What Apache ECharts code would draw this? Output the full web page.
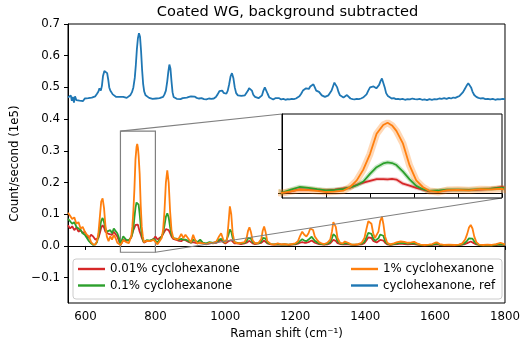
<!DOCTYPE html>
<html><head><meta charset="utf-8">
<script src="https://cdn.jsdelivr.net/npm/echarts@6/dist/echarts.min.js"></script>
<style>html,body{margin:0;padding:0;background:#fff}#c{width:523px;height:348px}</style>
</head><body><div id="c"></div>
<script>
const chartTitle = 'Coated WG, background subtracted';
const xName = 'Raman shift (cm\u207B\u00B9)';
const yName = 'Count/second (1e5)';
const seriesNames = ['0.01% cyclohexanone', '0.1% cyclohexanone', '1% cyclohexanone', 'cyclohexanone, ref'];
const xTicks = [600, 800, 1000, 1200, 1400, 1600, 1800];
const yTicks = [-0.1, 0.0, 0.1, 0.2, 0.3, 0.4, 0.5, 0.6, 0.7];
const insetXTicks = [700, 720, 740, 760, 780, 800];
const insetYTicks = [0.0, 0.2];
const zoomX = [700, 800];
const zoomY = [-0.02, 0.362];

const sampleShifts = [550,556,562,568,574,580,586,592,598,604,610,616,622,628,633,637,641,645,649,653,657,661,666,671,676,681,686,691,696,
700,704,708,712,716,720,724,728,731,734,737,740,743,746,748,750,752,755,758,761,764,767,771,775,780,785,790,795,800,
806,812,818,822,826,830,834,838,842,846,851,856,862,868,874,880,886,891,896,902,908,913,920,928,936,945,955,965,975,982,988,994,1000,
1005,1009,1013,1017,1021,1026,1035,1045,1055,1061,1065,1069,1073,1078,1085,1095,1103,1107,1111,1115,1120,1130,1140,1150,1160,1170,1180,1190,1200,
1208,1214,1220,1226,1232,1238,1243,1247,1251,1256,1262,1268,1275,1283,1292,1300,1305,1309,1312,1316,1321,1328,1336,1342,1346,1351,1360,1370,1380,1390,
1398,1404,1409,1413,1418,1423,1428,1433,1438,1443,1448,1452,1457,1463,1472,1482,1492,1502,1512,1522,1532,1540,1548,1558,1570,1582,1592,1600,1606,1613,1625,1640,1655,1668,
1678,1686,1692,1697,1702,1707,1712,1718,1726,1738,1750,1762,1775,1787,1800];

const orange1 = [0.105,0.095,0.085,0.09,0.07,0.075,0.055,0.06,0.045,0.035,0.03,0.012,0.005,0.004,0.015,0.04,0.09,0.14,0.15,0.12,0.065,0.03,0.015,0.03,0.02,0.035,0.025,0.01,0.005,
0.003,0.01,0.018,0.016,0.012,0.007,0.009,0.014,0.03,0.06,0.11,0.18,0.272,0.312,0.322,0.31,0.285,0.227,0.128,0.06,0.03,0.012,0.007,0.016,0.017,0.015,0.02,0.019,0.022,
0.005,0.015,0.025,0.05,0.11,0.2,0.238,0.2,0.11,0.05,0.025,0.03,0.02,0.025,0.038,0.025,0.035,0.04,0.02,0.012,0.035,0.02,0.008,0.01,0.008,0.005,0.01,0.008,0.015,0.03,0.04,0.02,0.01,
0.02,0.07,0.125,0.1,0.04,0.012,0.008,0.01,0.012,0.025,0.048,0.059,0.045,0.018,0.008,0.01,0.022,0.048,0.061,0.045,0.015,0.006,0.004,0.008,0.005,0.006,0.004,0.006,0.008,
0.015,0.032,0.045,0.035,0.03,0.04,0.055,0.061,0.05,0.03,0.02,0.012,0.008,0.006,0.01,0.02,0.045,0.075,0.08,0.06,0.025,0.01,0.008,0.014,0.018,0.01,0.005,0.004,0.006,0.01,
0.025,0.055,0.078,0.084,0.07,0.04,0.025,0.026,0.045,0.078,0.092,0.07,0.03,0.01,0.005,0.008,0.012,0.014,0.013,0.01,0.011,0.013,0.008,0.004,0.003,0.004,0.006,0.01,0.011,0.006,0.003,0.004,0.003,0.004,
0.008,0.02,0.038,0.058,0.066,0.055,0.03,0.012,0.004,0.003,0.004,0.003,0.006,0.01,0.005];

const green01 = [0.085,0.078,0.07,0.075,0.06,0.055,0.05,0.04,0.035,0.025,0.015,0.008,0.003,0.005,0.012,0.03,0.055,0.08,0.088,0.075,0.055,0.045,0.04,0.05,0.04,0.055,0.05,0.04,0.025,
0.003,0.018,0.03,0.026,0.02,0.015,0.017,0.021,0.028,0.038,0.055,0.09,0.12,0.137,0.142,0.139,0.13,0.1,0.065,0.035,0.02,0.012,0.014,0.018,0.018,0.017,0.02,0.022,0.027,
0.01,0.02,0.03,0.04,0.065,0.092,0.103,0.09,0.06,0.035,0.025,0.028,0.022,0.02,0.022,0.02,0.02,0.025,0.015,0.01,0.02,0.015,0.012,0.02,0.01,0.008,0.012,0.01,0.012,0.02,0.022,0.015,0.01,
0.015,0.035,0.052,0.045,0.025,0.012,0.01,0.008,0.01,0.015,0.025,0.03,0.024,0.012,0.008,0.008,0.014,0.025,0.03,0.024,0.01,0.006,0.005,0.006,0.004,0.005,0.004,0.005,0.006,
0.01,0.016,0.021,0.017,0.015,0.02,0.026,0.029,0.024,0.016,0.012,0.008,0.006,0.005,0.007,0.012,0.024,0.037,0.04,0.03,0.015,0.008,0.006,0.009,0.011,0.007,0.004,0.004,0.005,0.007,
0.013,0.028,0.041,0.045,0.038,0.024,0.016,0.017,0.024,0.036,0.04,0.032,0.016,0.007,0.004,0.006,0.008,0.01,0.009,0.007,0.008,0.009,0.006,0.003,0.003,0.003,0.004,0.006,0.007,0.004,0.003,0.003,0.003,0.003,
0.005,0.01,0.017,0.024,0.027,0.023,0.014,0.007,0.003,0.002,0.003,0.002,0.004,0.005,0.004];

const red001 = [0.065,0.055,0.062,0.05,0.058,0.045,0.05,0.04,0.045,0.03,0.025,0.035,0.03,0.02,0.015,0.025,0.04,0.058,0.065,0.058,0.045,0.04,0.038,0.042,0.035,0.045,0.04,0.03,0.015,
0.003,0.01,0.019,0.017,0.016,0.015,0.018,0.024,0.027,0.04,0.05,0.058,0.066,0.066,0.065,0.067,0.064,0.045,0.036,0.026,0.018,0.01,0.012,0.015,0.017,0.016,0.018,0.022,0.03,
0.02,0.025,0.03,0.035,0.045,0.053,0.056,0.05,0.04,0.03,0.022,0.02,0.018,0.016,0.015,0.02,0.018,0.02,0.012,0.01,0.012,0.01,0.008,0.012,0.01,0.006,0.008,0.01,0.01,0.015,0.018,0.012,0.008,
0.01,0.015,0.021,0.018,0.012,0.008,0.008,0.006,0.008,0.01,0.013,0.016,0.013,0.008,0.006,0.008,0.01,0.014,0.017,0.013,0.008,0.005,0.004,0.005,0.004,0.005,0.003,0.004,0.005,
0.007,0.01,0.012,0.01,0.01,0.012,0.015,0.017,0.014,0.01,0.008,0.006,0.005,0.004,0.005,0.008,0.012,0.019,0.021,0.016,0.009,0.006,0.005,0.006,0.007,0.005,0.004,0.003,0.004,0.005,
0.009,0.018,0.027,0.03,0.025,0.016,0.011,0.011,0.014,0.019,0.021,0.017,0.01,0.005,0.003,0.005,0.006,0.007,0.006,0.005,0.006,0.006,0.004,0.003,0.002,0.003,0.003,0.004,0.005,0.003,0.002,0.003,0.002,0.003,
0.004,0.006,0.009,0.012,0.014,0.012,0.008,0.005,0.003,0.002,0.003,0.002,0.003,0.004,0.003];

const refShifts = [550,554,558,561,564,567,570,574,578,583,588,593,598,603,608,613,618,623,628,633,637,640,642,644,647,650,654,658,662,665,668,671,674,678,683,688,693,698,
703,708,713,718,723,728,733,737,741,744,747,750,753,756,759,762,765,768,772,777,782,787,792,797,802,807,812,817,822,826,830,834,837,840,843,846,849,852,856,861,866,872,878,884,890,896,
902,907,912,918,925,932,939,946,953,960,967,973,978,983,987,991,995,999,1003,1007,1011,1015,1019,1023,1027,1031,1036,1041,1046,1051,1056,1061,1065,1068,1072,1076,1080,1085,1090,1095,
1100,1105,1109,1113,1117,1121,1126,1131,1137,1143,1148,1154,1160,1166,1172,1178,1184,1190,1196,1202,1207,1212,1217,1222,1227,1231,1235,1239,1243,1248,1252,1256,1260,1264,1268,1272,1276,1280,1285,1290,1295,
1300,1304,1308,1312,1316,1320,1324,1328,1333,1338,1343,1348,1353,1358,1364,1370,1376,1382,1388,1394,1399,1404,1409,1414,1419,1424,1428,1432,1436,1440,1444,1448,1452,1456,1460,1465,1470,1476,1482,1488,1494,
1500,1507,1514,1521,1528,1535,1542,1549,1556,1563,1570,1577,1584,1591,1598,1605,1612,1619,1626,1633,1640,1646,1652,1658,1664,1670,1675,1680,1685,1690,1695,1699,1703,1707,1712,1718,1724,1730,1737,1744,1751,1758,1765,1772,1779,1786,1793,1800];

const refCounts = [0.468,0.462,0.475,0.458,0.47,0.452,0.472,0.46,0.466,0.458,0.463,0.457,0.465,0.459,0.466,0.46,0.468,0.465,0.472,0.48,0.487,0.497,0.5,0.49,0.505,0.535,0.552,0.555,0.545,0.525,0.5,0.49,0.488,0.478,0.473,0.47,0.468,0.47,
0.466,0.47,0.468,0.467,0.47,0.475,0.485,0.5,0.53,0.57,0.62,0.655,0.671,0.66,0.615,0.555,0.51,0.487,0.475,0.47,0.467,0.465,0.464,0.463,0.465,0.464,0.466,0.468,0.47,0.478,0.49,0.52,0.55,0.572,0.56,0.52,0.485,0.47,0.466,0.464,0.465,0.463,0.466,0.467,0.468,0.47,
0.472,0.473,0.471,0.467,0.465,0.466,0.463,0.462,0.465,0.464,0.465,0.47,0.478,0.488,0.493,0.49,0.483,0.478,0.48,0.49,0.51,0.535,0.545,0.53,0.5,0.482,0.475,0.474,0.473,0.472,0.475,0.48,0.49,0.498,0.5,0.49,0.477,0.47,0.468,0.466,
0.468,0.475,0.49,0.5,0.497,0.48,0.468,0.464,0.462,0.466,0.464,0.466,0.462,0.464,0.461,0.463,0.462,0.464,0.463,0.465,0.468,0.472,0.48,0.49,0.495,0.497,0.492,0.495,0.503,0.507,0.51,0.5,0.49,0.487,0.486,0.48,0.475,0.472,0.47,0.472,0.475,
0.48,0.49,0.503,0.515,0.517,0.5,0.485,0.475,0.47,0.468,0.472,0.476,0.47,0.465,0.463,0.462,0.464,0.463,0.465,0.468,0.472,0.478,0.49,0.5,0.504,0.503,0.5,0.497,0.5,0.508,0.52,0.528,0.522,0.5,0.482,0.473,0.468,0.465,0.466,0.463,0.464,
0.462,0.464,0.461,0.463,0.462,0.465,0.463,0.462,0.464,0.461,0.462,0.46,0.463,0.461,0.463,0.462,0.465,0.464,0.466,0.464,0.467,0.465,0.468,0.467,0.47,0.473,0.478,0.485,0.495,0.505,0.513,0.51,0.5,0.487,0.476,0.47,0.467,0.465,0.466,0.463,0.464,0.462,0.464,0.461,0.463,0.462,0.464,0.463];

const colors = ['#d62728', '#2ca02c', '#ff7f0e', '#1f77b4'];
const FONT = 'DejaVu Sans';

function pairs(xs, ys) { return xs.map((x, i) => [x, ys[i]]); }
const lowerSets = [red001, green01, orange1];

const chart = echarts.init(document.getElementById('c'), null, {renderer: 'canvas'});
const fmtY = v => (v < 0 ? '\u2212' : '') + Math.abs(v).toFixed(1);
const fmtX = v => String(Math.round(v));

const series = [];
lowerSets.forEach((ys, i) => {
  const s = {
    name: seriesNames[i], type: 'line', xAxisIndex: 0, yAxisIndex: 0,
    data: pairs(sampleShifts, ys), showSymbol: false, symbol: 'none',
    lineStyle: {color: colors[i], width: 1.8}, itemStyle: {color: colors[i]},
    z: 2 + i, silent: true
  };
  if (i === 0) {
    s.markArea = {
      silent: true,
      itemStyle: {color: 'rgba(0,0,0,0)', borderColor: '#808080', borderWidth: 1.2},
      data: [[{coord: [zoomX[0], zoomY[1]]}, {coord: [zoomX[1], zoomY[0]]}]]
    };
  }
  series.push(s);
});
series.push({
  name: seriesNames[3], type: 'line', xAxisIndex: 0, yAxisIndex: 0,
  data: pairs(refShifts, refCounts), showSymbol: false, symbol: 'none',
  lineStyle: {color: colors[3], width: 1.8}, itemStyle: {color: colors[3]}, z: 6, silent: true
});
const bandWidths = [4, 4.5, 7];
const bandOp = [0.22, 0.25, 0.3];
lowerSets.forEach((ys, i) => {
  series.push({
    name: 'band' + i, type: 'line', xAxisIndex: 1, yAxisIndex: 1,
    data: pairs(sampleShifts, ys), showSymbol: false, symbol: 'none',
    lineStyle: {color: colors[i], width: bandWidths[i], opacity: bandOp[i]}, z: 10, silent: true
  });
});
lowerSets.forEach((ys, i) => {
  series.push({
    name: seriesNames[i] + ' ', type: 'line', xAxisIndex: 1, yAxisIndex: 1,
    data: pairs(sampleShifts, ys), showSymbol: false, symbol: 'none',
    lineStyle: {color: colors[i], width: 1.8}, z: 11 + i, silent: true
  });
});

const labelStyle = {color: '#000', fontSize: 11.8, fontFamily: FONT};
const legendCommon = {
  orient: 'vertical', top: 262, itemWidth: 27, itemHeight: 2.4, icon: 'rect',
  itemGap: 2.5, padding: 0, z: 20, selectedMode: false,
  textStyle: {color: '#000', fontSize: 11.8, fontFamily: FONT, lineHeight: 14}
};

chart.setOption({
  animation: false,
  color: colors,
  grid: [
    {left: 68, top: 24, width: 439, height: 279, show: true, borderColor: '#000', borderWidth: 1, backgroundColor: 'transparent', containLabel: false},
    {left: 282, top: 114, width: 220, height: 84, show: true, borderColor: '#000', borderWidth: 1, backgroundColor: '#fff', z: 8, containLabel: false}
  ],
  xAxis: [
    {type: 'value', gridIndex: 0, min: 550, max: 1800,
     axisLine: {show: true, lineStyle: {color: '#000', width: 1}},
     axisTick: {show: true, customValues: xTicks, length: 4, inside: false, lineStyle: {color: '#000'}},
     axisLabel: {show: true, customValues: xTicks, margin: 8, formatter: fmtX, ...labelStyle},
     splitLine: {show: false},
     name: xName, nameLocation: 'middle', nameGap: 25, nameTextStyle: labelStyle},
    {type: 'value', gridIndex: 1, min: zoomX[0], max: zoomX[1], z: 9,
     axisLine: {show: true, lineStyle: {color: '#000', width: 1}},
     axisTick: {show: true, customValues: insetXTicks, length: 4, inside: false, lineStyle: {color: '#000'}},
     axisLabel: {show: false}, splitLine: {show: false}}
  ],
  yAxis: [
    {type: 'value', gridIndex: 0, min: -0.18, max: 0.7,
     axisLine: {show: true, lineStyle: {color: '#000', width: 1}},
     axisTick: {show: true, customValues: yTicks, length: 4, inside: false, lineStyle: {color: '#000'}},
     axisLabel: {show: true, customValues: yTicks, margin: 8, formatter: fmtY, ...labelStyle},
     splitLine: {show: false},
     name: yName, nameLocation: 'middle', nameGap: 40, nameTextStyle: labelStyle},
    {type: 'value', gridIndex: 1, min: zoomY[0], max: zoomY[1], z: 9,
     axisLine: {show: true, lineStyle: {color: '#000', width: 1}},
     axisTick: {show: true, customValues: insetYTicks, length: 4, inside: false, lineStyle: {color: '#000'}},
     axisLabel: {show: false}, splitLine: {show: false}}
  ],
  legend: [
    Object.assign({}, legendCommon, {left: 78, data: [seriesNames[0], seriesNames[1]]}),
    Object.assign({}, legendCommon, {left: 351, data: [seriesNames[2], seriesNames[3]]})
  ],
  series: series
});

// connector lines from the zoom box to the inset, derived from the axes
const boxTL = chart.convertToPixel({xAxisIndex: 0, yAxisIndex: 0}, [zoomX[0], zoomY[1]]);
const boxBR = chart.convertToPixel({xAxisIndex: 0, yAxisIndex: 0}, [zoomX[1], zoomY[0]]);
const insTL = chart.convertToPixel({xAxisIndex: 1, yAxisIndex: 1}, [zoomX[0], zoomY[1]]);
const insBR = chart.convertToPixel({xAxisIndex: 1, yAxisIndex: 1}, [zoomX[1], zoomY[0]]);

chart.setOption({
  graphic: [
    {type: 'text', x: 287.5, y: 12, z: 30,
     style: {text: chartTitle, fill: '#000', font: '14.6px "DejaVu Sans"', align: 'center', verticalAlign: 'middle'}},
    {type: 'rect', shape: {x: 73, y: 259, width: 429, height: 40, r: 3}, z: 5,
     style: {fill: 'rgba(255,255,255,0.8)', stroke: '#cccccc', lineWidth: 1}},
    {type: 'line', shape: {x1: boxTL[0], y1: boxTL[1], x2: insTL[0], y2: insTL[1]}, z: 7,
     style: {stroke: '#808080', lineWidth: 1.2}},
    {type: 'line', shape: {x1: boxBR[0], y1: boxBR[1], x2: insBR[0], y2: insBR[1]}, z: 7,
     style: {stroke: '#808080', lineWidth: 1.2}}
  ]
});
</script>
</body></html>
